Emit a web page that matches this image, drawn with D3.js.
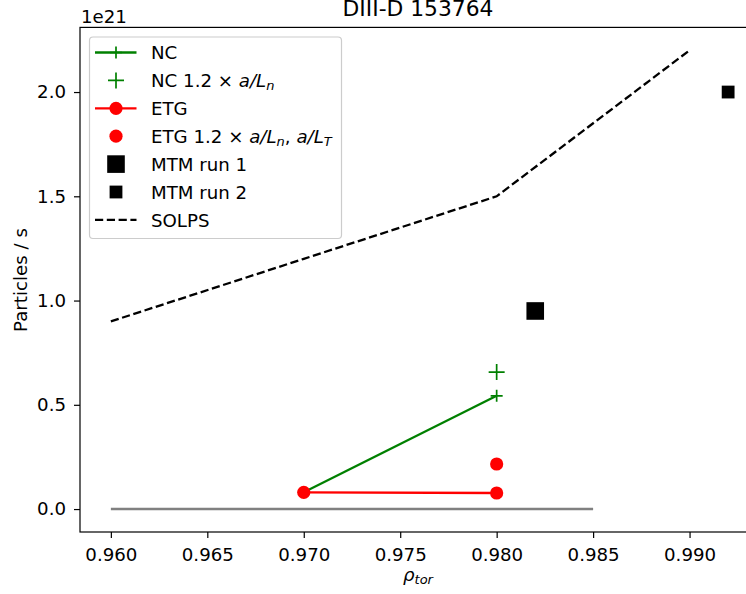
<!DOCTYPE html>
<meta charset="utf-8">
<body style="margin:0;background:#fff">
<svg width="746" height="594"></svg>
<script src="https://d3js.org/d3.v7.min.js"></script>
<script>
// rho_tor positions and fluxes (units of 1e21 particles/s)
var ncX = [0.97, 0.98], ncY = [0.081, 0.543];
var ncHiX = [0.98], ncHiY = [0.657];
var etgX = [0.97, 0.98], etgY = [0.080, 0.077];
var etgHiX = [0.98], etgHiY = [0.216];
var mtm1X = [0.982], mtm1Y = [0.95];
var mtm2X = [0.992], mtm2Y = [2.0];
var solpsX = [0.96, 0.97, 0.98, 0.99], solpsY = [0.9, 1.2, 1.5, 2.2];
var zeroX = [0.96, 0.985], zeroY = [0, 0];
var xTicks = [0.960, 0.965, 0.970, 0.975, 0.980, 0.985, 0.990];
var yTicks = [0.0, 0.5, 1.0, 1.5, 2.0];

var svg = d3.select("svg");
var font = "DejaVu Sans";
var fs = 18.2;
var pLeft = 80, pRight = 759, pTop = 27.4, pBottom = 532;

var x = d3.scaleLinear().domain([0.9584, 0.9936]).range([pLeft, pRight]);
var y = d3.scaleLinear().domain([-0.11, 2.31]).range([pBottom, pTop]);

function pts(xs, ys) { return xs.map(function(v, i) { return [v, ys[i]]; }); }
var line = d3.line().x(function(d) { return x(d[0]); }).y(function(d) { return y(d[1]); });

var g = svg.append("g");

// zero line
g.append("path").attr("d", line(pts(zeroX, zeroY)))
  .attr("fill", "none").attr("stroke", "#808080").attr("stroke-width", 2.6);

// SOLPS
g.append("path").attr("d", line(pts(solpsX, solpsY)))
  .attr("fill", "none").attr("stroke", "#000").attr("stroke-width", 2.3)
  .attr("stroke-dasharray", "8.2,3.6");

// NC line
g.append("path").attr("d", line(pts(ncX, ncY)))
  .attr("fill", "none").attr("stroke", "green").attr("stroke-width", 2.3);

function plus(sel, cx, cy, s, w, c) {
  sel.append("path").attr("d", "M" + (cx - s) + "," + cy + "H" + (cx + s) + "M" + cx + "," + (cy - s) + "V" + (cy + s))
    .attr("stroke", c).attr("stroke-width", w).attr("fill", "none");
}

pts(ncX, ncY).forEach(function(d) { plus(g, x(d[0]), y(d[1]), 6, 1.7, "green"); });
pts(ncHiX, ncHiY).forEach(function(d) { plus(g, x(d[0]), y(d[1]), 8, 1.7, "green"); });

// ETG
g.append("path").attr("d", line(pts(etgX, etgY)))
  .attr("fill", "none").attr("stroke", "red").attr("stroke-width", 2.3);
g.selectAll("circle.etg").data(pts(etgX, etgY).concat(pts(etgHiX, etgHiY))).enter()
  .append("circle").attr("cx", function(d) { return x(d[0]); }).attr("cy", function(d) { return y(d[1]); })
  .attr("r", 6.6).attr("fill", "red");

// MTM squares
g.selectAll("rect.m1").data(pts(mtm1X, mtm1Y)).enter().append("rect")
  .attr("x", function(d) { return x(d[0]) - 8.8; }).attr("y", function(d) { return y(d[1]) - 8.8; })
  .attr("width", 17.6).attr("height", 17.6).attr("fill", "#000");
g.selectAll("rect.m2").data(pts(mtm2X, mtm2Y)).enter().append("rect")
  .attr("x", function(d) { return x(d[0]) - 6.4; }).attr("y", function(d) { return y(d[1]) - 6.4; })
  .attr("width", 12.8).attr("height", 12.8).attr("fill", "#000");

// frame
svg.append("rect").attr("x", pLeft).attr("y", pTop).attr("width", pRight - pLeft).attr("height", pBottom - pTop)
  .attr("fill", "none").attr("stroke", "#000").attr("stroke-width", 1.2);

// axes
var xAxis = svg.append("g").attr("transform", "translate(0," + pBottom + ")")
  .call(d3.axisBottom(x).tickValues(xTicks).tickFormat(d3.format(".3f")).tickSize(6).tickPadding(10));
var yAxis = svg.append("g").attr("transform", "translate(" + pLeft + ",0)")
  .call(d3.axisLeft(y).tickValues(yTicks).tickFormat(d3.format(".1f")).tickSize(6).tickPadding(8));
[xAxis, yAxis].forEach(function(a) {
  a.select(".domain").remove();
  a.selectAll("line").attr("stroke", "#000").attr("stroke-width", 1.2);
  a.selectAll("text").attr("font-family", font).attr("font-size", fs).attr("fill", "#000");
});

// texts
svg.append("text").attr("x", pLeft + 1).attr("y", 22.7).attr("font-family", font).attr("font-size", fs).text("1e21");
svg.append("text").attr("x", 418).attr("y", 16).attr("text-anchor", "middle")
  .attr("font-family", font).attr("font-size", 21.8).text("DIII-D 153764");
svg.append("text").attr("transform", "translate(27,280) rotate(-90)").attr("text-anchor", "middle")
  .attr("font-family", font).attr("font-size", fs).text("Particles / s");
var xl = svg.append("text").attr("x", 418).attr("y", 581).attr("text-anchor", "middle")
  .attr("font-family", font).attr("font-size", fs).attr("font-style", "italic");
xl.append("tspan").text("ρ");
xl.append("tspan").attr("dy", 3).attr("font-size", 13).text("tor");

// legend
var lg = svg.append("g");
lg.append("rect").attr("x", 89.5).attr("y", 37).attr("width", 252).attr("height", 201.5).attr("rx", 3.5)
  .attr("fill", "#fff").attr("fill-opacity", 0.8).attr("stroke", "#ccc").attr("stroke-width", 1.2);
var ly0 = 52.5, ldy = 27.9, hx0 = 95, hx1 = 136.5, hc = 116, tx = 151;
function ly(i) { return ly0 + i * ldy; }
lg.append("line").attr("x1", hx0).attr("x2", hx1).attr("y1", ly(0)).attr("y2", ly(0)).attr("stroke", "green").attr("stroke-width", 2.3);
plus(lg, hc, ly(0), 6, 1.7, "green");
plus(lg, hc, ly(1), 8, 1.7, "green");
lg.append("line").attr("x1", hx0).attr("x2", hx1).attr("y1", ly(2)).attr("y2", ly(2)).attr("stroke", "red").attr("stroke-width", 2.3);
lg.append("circle").attr("cx", hc).attr("cy", ly(2)).attr("r", 6.6).attr("fill", "red");
lg.append("circle").attr("cx", hc).attr("cy", ly(3)).attr("r", 6.6).attr("fill", "red");
lg.append("rect").attr("x", hc - 8.8).attr("y", ly(4) - 8.8).attr("width", 17.6).attr("height", 17.6).attr("fill", "#000");
lg.append("rect").attr("x", hc - 6.4).attr("y", ly(5) - 6.4).attr("width", 12.8).attr("height", 12.8).attr("fill", "#000");
lg.append("line").attr("x1", hx0).attr("x2", hx1).attr("y1", ly(6)).attr("y2", ly(6)).attr("stroke", "#000")
  .attr("stroke-width", 2.3).attr("stroke-dasharray", "8.2,3.6");

function ltext(i) {
  return lg.append("text").attr("x", tx).attr("y", ly(i) + 6.8).attr("font-family", font).attr("font-size", fs).attr("fill", "#000");
}
ltext(0).text("NC");
var t1 = ltext(1); t1.append("tspan").text("NC 1.2 × ");
t1.append("tspan").attr("font-style", "italic").text("a/L");
t1.append("tspan").attr("font-style", "italic").attr("font-size", 13).attr("dy", 3).text("n");
ltext(2).text("ETG");
var t3 = ltext(3); t3.append("tspan").text("ETG 1.2 × ");
t3.append("tspan").attr("font-style", "italic").text("a/L");
t3.append("tspan").attr("font-style", "italic").attr("font-size", 13).attr("dy", 3).text("n");
t3.append("tspan").attr("dy", -3).text(", ");
t3.append("tspan").attr("font-style", "italic").text("a/L");
t3.append("tspan").attr("font-style", "italic").attr("font-size", 13).attr("dy", 3).text("T");
ltext(4).text("MTM run 1");
ltext(5).text("MTM run 2");
ltext(6).text("SOLPS");
</script>
</body>
